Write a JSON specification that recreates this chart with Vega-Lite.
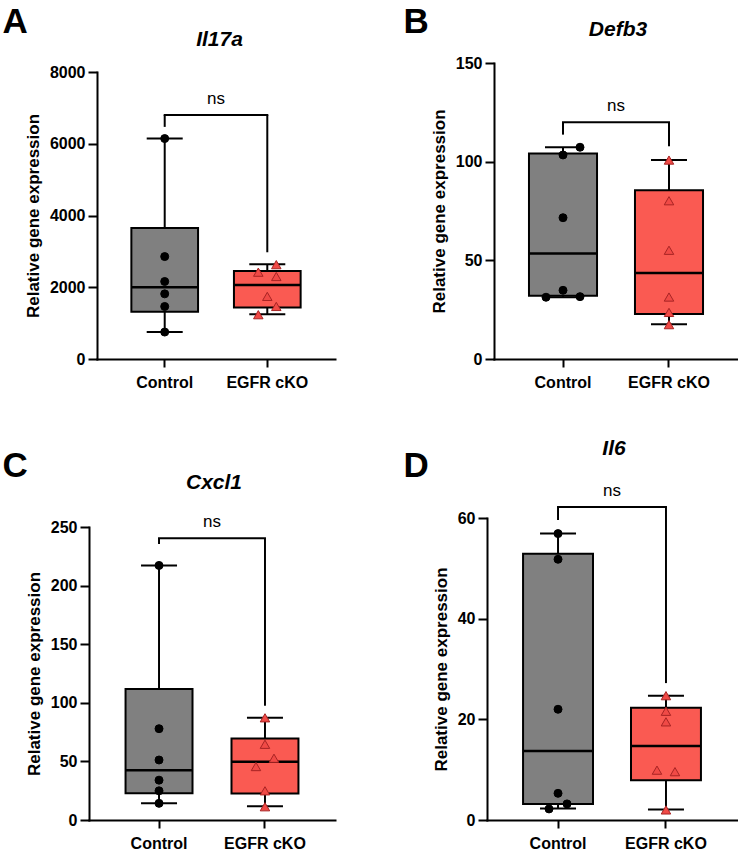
{
  "$schema": "https://vega.github.io/schema/vega-lite/v6.json",
  "padding": {"left": 2, "top": 4, "right": 0, "bottom": 0},
  "background": "white",
  "datasets": {
    "boxes": [
      {"gene": "Il17a", "group": "Control", "min": 751, "q1": 1316, "median": 2002, "q3": 3651, "max": 6145},
      {"gene": "Il17a", "group": "EGFR cKO", "min": 1245, "q1": 1437, "median": 2060, "q3": 2450, "max": 2640},
      {"gene": "Defb3", "group": "Control", "min": 31.3, "q1": 32.0, "median": 53.4, "q3": 104.1, "max": 107.3},
      {"gene": "Defb3", "group": "EGFR cKO", "min": 17.6, "q1": 22.8, "median": 43.6, "q3": 85.5, "max": 100.8},
      {"gene": "Cxcl1", "group": "Control", "min": 14.2, "q1": 22.9, "median": 42.5, "q3": 111.8, "max": 217.2},
      {"gene": "Cxcl1", "group": "EGFR cKO", "min": 11.8, "q1": 22.6, "median": 49.8, "q3": 69.6, "max": 87.2},
      {"gene": "Il6", "group": "Control", "min": 2.3, "q1": 3.2, "median": 13.7, "q3": 52.9, "max": 56.9},
      {"gene": "Il6", "group": "EGFR cKO", "min": 2.1, "q1": 7.9, "median": 14.7, "q3": 22.3, "max": 24.7}
    ],
    "points": [
      {"gene": "Il17a", "group": "Control", "value": 6145, "lane": 0},
      {"gene": "Il17a", "group": "Control", "value": 2855, "lane": 0},
      {"gene": "Il17a", "group": "Control", "value": 2160, "lane": 0},
      {"gene": "Il17a", "group": "Control", "value": 1816, "lane": 0},
      {"gene": "Il17a", "group": "Control", "value": 1464, "lane": 0},
      {"gene": "Il17a", "group": "Control", "value": 751, "lane": 0},
      {"gene": "Il17a", "group": "EGFR cKO", "value": 2630, "lane": 1},
      {"gene": "Il17a", "group": "EGFR cKO", "value": 2420, "lane": -1},
      {"gene": "Il17a", "group": "EGFR cKO", "value": 2300, "lane": 1},
      {"gene": "Il17a", "group": "EGFR cKO", "value": 1745, "lane": 0},
      {"gene": "Il17a", "group": "EGFR cKO", "value": 1465, "lane": 1},
      {"gene": "Il17a", "group": "EGFR cKO", "value": 1235, "lane": -1},
      {"gene": "Defb3", "group": "Control", "value": 107.3, "lane": 1},
      {"gene": "Defb3", "group": "Control", "value": 103.4, "lane": 0},
      {"gene": "Defb3", "group": "Control", "value": 71.6, "lane": 0},
      {"gene": "Defb3", "group": "Control", "value": 34.8, "lane": 0},
      {"gene": "Defb3", "group": "Control", "value": 31.3, "lane": -1},
      {"gene": "Defb3", "group": "Control", "value": 31.6, "lane": 1},
      {"gene": "Defb3", "group": "EGFR cKO", "value": 100.8, "lane": 0},
      {"gene": "Defb3", "group": "EGFR cKO", "value": 80.2, "lane": 0},
      {"gene": "Defb3", "group": "EGFR cKO", "value": 55.1, "lane": 0},
      {"gene": "Defb3", "group": "EGFR cKO", "value": 31.4, "lane": 0},
      {"gene": "Defb3", "group": "EGFR cKO", "value": 23.6, "lane": 0},
      {"gene": "Defb3", "group": "EGFR cKO", "value": 17.4, "lane": 0},
      {"gene": "Cxcl1", "group": "Control", "value": 217.2, "lane": 0},
      {"gene": "Cxcl1", "group": "Control", "value": 77.9, "lane": 0},
      {"gene": "Cxcl1", "group": "Control", "value": 51.2, "lane": 0},
      {"gene": "Cxcl1", "group": "Control", "value": 34.0, "lane": 0},
      {"gene": "Cxcl1", "group": "Control", "value": 24.9, "lane": 0},
      {"gene": "Cxcl1", "group": "Control", "value": 14.2, "lane": 0},
      {"gene": "Cxcl1", "group": "EGFR cKO", "value": 87.2, "lane": 0},
      {"gene": "Cxcl1", "group": "EGFR cKO", "value": 64.6, "lane": 0},
      {"gene": "Cxcl1", "group": "EGFR cKO", "value": 52.7, "lane": 1},
      {"gene": "Cxcl1", "group": "EGFR cKO", "value": 45.6, "lane": -1},
      {"gene": "Cxcl1", "group": "EGFR cKO", "value": 24.9, "lane": 0},
      {"gene": "Cxcl1", "group": "EGFR cKO", "value": 11.3, "lane": 0},
      {"gene": "Il6", "group": "Control", "value": 56.9, "lane": 0},
      {"gene": "Il6", "group": "Control", "value": 51.8, "lane": 0},
      {"gene": "Il6", "group": "Control", "value": 22.0, "lane": 0},
      {"gene": "Il6", "group": "Control", "value": 5.3, "lane": 0},
      {"gene": "Il6", "group": "Control", "value": 3.2, "lane": 1},
      {"gene": "Il6", "group": "Control", "value": 2.2, "lane": -1},
      {"gene": "Il6", "group": "EGFR cKO", "value": 24.7, "lane": 0},
      {"gene": "Il6", "group": "EGFR cKO", "value": 21.6, "lane": 0},
      {"gene": "Il6", "group": "EGFR cKO", "value": 19.5, "lane": 0},
      {"gene": "Il6", "group": "EGFR cKO", "value": 9.9, "lane": -1},
      {"gene": "Il6", "group": "EGFR cKO", "value": 9.6, "lane": 1},
      {"gene": "Il6", "group": "EGFR cKO", "value": 2.0, "lane": 0}
    ],
    "legs": [
      {"gene": "Il17a", "group": "Control", "top": 6800, "bottom": 6470},
      {"gene": "Il17a", "group": "EGFR cKO", "top": 6800, "bottom": 2975},
      {"gene": "Defb3", "group": "Control", "top": 120, "bottom": 113.7},
      {"gene": "Defb3", "group": "EGFR cKO", "top": 120, "bottom": 107.8},
      {"gene": "Cxcl1", "group": "Control", "top": 240.4, "bottom": 235.5},
      {"gene": "Cxcl1", "group": "EGFR cKO", "top": 240.4, "bottom": 97.5},
      {"gene": "Il6", "group": "Control", "top": 62.2, "bottom": 59.6},
      {"gene": "Il6", "group": "EGFR cKO", "top": 62.2, "bottom": 27.2}
    ],
    "bars": [
      {"gene": "Il17a", "left": "Control", "right": "EGFR cKO", "level": 6800, "label": "ns"},
      {"gene": "Defb3", "left": "Control", "right": "EGFR cKO", "level": 120, "label": "ns"},
      {"gene": "Cxcl1", "left": "Control", "right": "EGFR cKO", "level": 240.4, "label": "ns"},
      {"gene": "Il6", "left": "Control", "right": "EGFR cKO", "level": 62.2, "label": "ns"}
    ]
  },
  "spacing": 47,
  "vconcat": [
    {
      "hconcat": [
        {
          "width": 246, "height": 296,
          "layer": [
            {"data": {"name": "boxes"}, "transform": [{"filter": {"field": "gene", "equal": "Il17a"}}],
             "mark": {"type": "rule", "color": "black", "strokeWidth": 2},
             "encoding": {
               "x": {"field": "group", "type": "nominal", "scale": {"type": "band", "domain": ["Control", "EGFR cKO"], "range": [8, 246], "paddingInner": 0.35, "paddingOuter": 0.335}, "axis": {"title": null}},
               "y": {"field": "min", "type": "quantitative", "scale": {"domain": [0, 8000], "range": [296, 9], "nice": false}, "axis": {"values": [0, 2000, 4000, 6000, 8000], "format": "d", "title": "Relative gene expression", "offset": -8}},
               "y2": {"field": "max"}}},
            {"data": {"name": "boxes"}, "transform": [{"filter": {"field": "gene", "equal": "Il17a"}}],
             "mark": {"type": "bar", "stroke": "black", "strokeWidth": 2, "opacity": 1},
             "encoding": {
               "x": {"field": "group", "type": "nominal", "axis": null},
               "y": {"field": "q1", "type": "quantitative", "axis": null},
               "y2": {"field": "q3"},
               "color": {"field": "group", "type": "nominal", "scale": {"domain": ["Control", "EGFR cKO"], "range": ["#808080", "#FA5A52"]}, "legend": null}}},
            {"data": {"name": "boxes"}, "transform": [{"filter": {"field": "gene", "equal": "Il17a"}}],
             "mark": {"type": "tick", "color": "black", "size": 66.7, "thickness": 2.5, "opacity": 1},
             "encoding": {
               "x": {"field": "group", "type": "nominal", "axis": {"orient": "top", "title": "Il17a", "labels": false, "ticks": false, "domain": false, "titleX": 130, "titleY": -18, "titleFontSize": 21, "titleFontStyle": "italic", "titleAlign": "center", "titleBaseline": "alphabetic"}},
               "y": {"field": "median", "type": "quantitative", "axis": null}}},
            {"data": {"name": "boxes"}, "transform": [{"filter": {"field": "gene", "equal": "Il17a"}}],
             "mark": {"type": "tick", "color": "black", "size": 36, "thickness": 2, "opacity": 1},
             "encoding": {
               "x": {"field": "group", "type": "nominal", "axis": null},
               "y": {"field": "min", "type": "quantitative", "axis": null}}},
            {"data": {"name": "boxes"}, "transform": [{"filter": {"field": "gene", "equal": "Il17a"}}],
             "mark": {"type": "tick", "color": "black", "size": 36, "thickness": 2, "opacity": 1},
             "encoding": {
               "x": {"field": "group", "type": "nominal", "axis": null},
               "y": {"field": "max", "type": "quantitative", "axis": {"orient": "right", "title": "A", "labels": false, "ticks": false, "domain": false, "titleAngle": 0, "titleX": -333, "titleY": -31, "titleAlign": "left", "titleBaseline": "alphabetic", "titleFontSize": 35}}}},
            {"data": {"name": "legs"}, "transform": [{"filter": {"field": "gene", "equal": "Il17a"}}],
             "mark": {"type": "rule", "color": "black", "strokeWidth": 2},
             "encoding": {
               "x": {"field": "group", "type": "nominal", "axis": null},
               "y": {"field": "top", "type": "quantitative", "axis": null},
               "y2": {"field": "bottom"}}},
            {"data": {"name": "bars"}, "transform": [{"filter": {"field": "gene", "equal": "Il17a"}}],
             "mark": {"type": "rule", "color": "black", "strokeWidth": 2, "strokeCap": "square"},
             "encoding": {
               "x": {"field": "left", "type": "nominal", "axis": null},
               "x2": {"field": "right"},
               "y": {"field": "level", "type": "quantitative", "axis": null}}},
            {"data": {"name": "bars"}, "transform": [{"filter": {"field": "gene", "equal": "Il17a"}}],
             "mark": {"type": "text", "dx": 51.3, "dy": -11, "fontSize": 17, "align": "center", "baseline": "alphabetic", "color": "black", "font": "Liberation Sans"},
             "encoding": {
               "x": {"field": "left", "type": "nominal", "axis": null},
               "y": {"field": "level", "type": "quantitative", "axis": null},
               "text": {"field": "label"}}},
            {"data": {"name": "points"}, "transform": [{"filter": {"field": "gene", "equal": "Il17a"}}, {"filter": {"field": "lane", "equal": 0}}],
             "mark": {"type": "point", "filled": true, "strokeWidth": 1, "opacity": 1},
             "encoding": {
               "x": {"field": "group", "type": "nominal", "axis": null},
               "y": {"field": "value", "type": "quantitative", "axis": null},
               "shape": {"field": "group", "type": "nominal", "scale": {"domain": ["Control", "EGFR cKO"], "range": ["circle", "triangle-up"]}, "legend": null},
               "fill": {"field": "group", "type": "nominal", "scale": {"domain": ["Control", "EGFR cKO"], "range": ["#000000", "#F04A46"]}, "legend": null},
               "stroke": {"field": "group", "type": "nominal", "scale": {"domain": ["Control", "EGFR cKO"], "range": ["#000000", "#A82424"]}, "legend": null},
               "size": {"field": "group", "type": "ordinal", "scale": {"domain": ["Control", "EGFR cKO"], "range": [64, 90]}, "legend": null}}},
            {"data": {"name": "points"}, "transform": [{"filter": {"field": "gene", "equal": "Il17a"}}, {"filter": {"field": "lane", "equal": -1}}],
             "mark": {"type": "point", "filled": true, "strokeWidth": 1, "opacity": 1, "xOffset": -9},
             "encoding": {
               "x": {"field": "group", "type": "nominal", "axis": null},
               "y": {"field": "value", "type": "quantitative", "axis": null},
               "shape": {"field": "group", "type": "nominal", "legend": null},
               "fill": {"field": "group", "type": "nominal", "legend": null},
               "stroke": {"field": "group", "type": "nominal", "legend": null},
               "size": {"field": "group", "type": "ordinal", "legend": null}}},
            {"data": {"name": "points"}, "transform": [{"filter": {"field": "gene", "equal": "Il17a"}}, {"filter": {"field": "lane", "equal": 1}}],
             "mark": {"type": "point", "filled": true, "strokeWidth": 1, "opacity": 1, "xOffset": 9},
             "encoding": {
               "x": {"field": "group", "type": "nominal", "axis": null},
               "y": {"field": "value", "type": "quantitative", "axis": null},
               "shape": {"field": "group", "type": "nominal", "legend": null},
               "fill": {"field": "group", "type": "nominal", "legend": null},
               "stroke": {"field": "group", "type": "nominal", "legend": null},
               "size": {"field": "group", "type": "ordinal", "legend": null}}}
          ],
          "resolve": {"axis": {"x": "independent", "y": "independent"}}
        },
        {
          "width": 244, "height": 296,
          "layer": [
            {"data": {"name": "boxes"}, "transform": [{"filter": {"field": "gene", "equal": "Defb3"}}],
             "mark": {"type": "rule", "color": "black", "strokeWidth": 2},
             "encoding": {
               "x": {"field": "group", "type": "nominal", "scale": {"type": "band", "domain": ["Control", "EGFR cKO"], "paddingInner": 0.358, "paddingOuter": 0.33}, "axis": {"title": null}},
               "y": {"field": "min", "type": "quantitative", "scale": {"domain": [0, 150], "nice": false}, "axis": {"values": [0, 50, 100, 150], "title": "Relative gene expression"}},
               "y2": {"field": "max"}}},
            {"data": {"name": "boxes"}, "transform": [{"filter": {"field": "gene", "equal": "Defb3"}}],
             "mark": {"type": "bar", "stroke": "black", "strokeWidth": 2, "opacity": 1},
             "encoding": {
               "x": {"field": "group", "type": "nominal", "axis": null},
               "y": {"field": "q1", "type": "quantitative", "axis": null},
               "y2": {"field": "q3"},
               "color": {"field": "group", "type": "nominal", "scale": {"domain": ["Control", "EGFR cKO"], "range": ["#808080", "#FA5A52"]}, "legend": null}}},
            {"data": {"name": "boxes"}, "transform": [{"filter": {"field": "gene", "equal": "Defb3"}}],
             "mark": {"type": "tick", "color": "black", "size": 68, "thickness": 2.5, "opacity": 1},
             "encoding": {
               "x": {"field": "group", "type": "nominal", "axis": {"orient": "top", "title": "Defb3", "labels": false, "ticks": false, "domain": false, "titleX": 123.5, "titleY": -28, "titleFontSize": 21, "titleFontStyle": "italic", "titleAlign": "center", "titleBaseline": "alphabetic"}},
               "y": {"field": "median", "type": "quantitative", "axis": null}}},
            {"data": {"name": "boxes"}, "transform": [{"filter": {"field": "gene", "equal": "Defb3"}}],
             "mark": {"type": "tick", "color": "black", "size": 36, "thickness": 2, "opacity": 1},
             "encoding": {
               "x": {"field": "group", "type": "nominal", "axis": null},
               "y": {"field": "min", "type": "quantitative", "axis": null}}},
            {"data": {"name": "boxes"}, "transform": [{"filter": {"field": "gene", "equal": "Defb3"}}],
             "mark": {"type": "tick", "color": "black", "size": 36, "thickness": 2, "opacity": 1},
             "encoding": {
               "x": {"field": "group", "type": "nominal", "axis": null},
               "y": {"field": "max", "type": "quantitative", "axis": {"orient": "right", "title": "B", "labels": false, "ticks": false, "domain": false, "titleAngle": 0, "titleX": -335, "titleY": -31, "titleAlign": "left", "titleBaseline": "alphabetic", "titleFontSize": 35}}}},
            {"data": {"name": "legs"}, "transform": [{"filter": {"field": "gene", "equal": "Defb3"}}],
             "mark": {"type": "rule", "color": "black", "strokeWidth": 2},
             "encoding": {
               "x": {"field": "group", "type": "nominal", "axis": null},
               "y": {"field": "top", "type": "quantitative", "axis": null},
               "y2": {"field": "bottom"}}},
            {"data": {"name": "bars"}, "transform": [{"filter": {"field": "gene", "equal": "Defb3"}}],
             "mark": {"type": "rule", "color": "black", "strokeWidth": 2, "strokeCap": "square"},
             "encoding": {
               "x": {"field": "left", "type": "nominal", "axis": null},
               "x2": {"field": "right"},
               "y": {"field": "level", "type": "quantitative", "axis": null}}},
            {"data": {"name": "bars"}, "transform": [{"filter": {"field": "gene", "equal": "Defb3"}}],
             "mark": {"type": "text", "dx": 53, "dy": -11, "fontSize": 17, "align": "center", "baseline": "alphabetic", "color": "black", "font": "Liberation Sans"},
             "encoding": {
               "x": {"field": "left", "type": "nominal", "axis": null},
               "y": {"field": "level", "type": "quantitative", "axis": null},
               "text": {"field": "label"}}},
            {"data": {"name": "points"}, "transform": [{"filter": {"field": "gene", "equal": "Defb3"}}, {"filter": {"field": "lane", "equal": 0}}],
             "mark": {"type": "point", "filled": true, "strokeWidth": 1, "opacity": 1},
             "encoding": {
               "x": {"field": "group", "type": "nominal", "axis": null},
               "y": {"field": "value", "type": "quantitative", "axis": null},
               "shape": {"field": "group", "type": "nominal", "scale": {"domain": ["Control", "EGFR cKO"], "range": ["circle", "triangle-up"]}, "legend": null},
               "fill": {"field": "group", "type": "nominal", "scale": {"domain": ["Control", "EGFR cKO"], "range": ["#000000", "#F04A46"]}, "legend": null},
               "stroke": {"field": "group", "type": "nominal", "scale": {"domain": ["Control", "EGFR cKO"], "range": ["#000000", "#A82424"]}, "legend": null},
               "size": {"field": "group", "type": "ordinal", "scale": {"domain": ["Control", "EGFR cKO"], "range": [64, 90]}, "legend": null}}},
            {"data": {"name": "points"}, "transform": [{"filter": {"field": "gene", "equal": "Defb3"}}, {"filter": {"field": "lane", "equal": -1}}],
             "mark": {"type": "point", "filled": true, "strokeWidth": 1, "opacity": 1, "xOffset": -17},
             "encoding": {
               "x": {"field": "group", "type": "nominal", "axis": null},
               "y": {"field": "value", "type": "quantitative", "axis": null},
               "shape": {"field": "group", "type": "nominal", "legend": null},
               "fill": {"field": "group", "type": "nominal", "legend": null},
               "stroke": {"field": "group", "type": "nominal", "legend": null},
               "size": {"field": "group", "type": "ordinal", "legend": null}}},
            {"data": {"name": "points"}, "transform": [{"filter": {"field": "gene", "equal": "Defb3"}}, {"filter": {"field": "lane", "equal": 1}}],
             "mark": {"type": "point", "filled": true, "strokeWidth": 1, "opacity": 1, "xOffset": 17},
             "encoding": {
               "x": {"field": "group", "type": "nominal", "axis": null},
               "y": {"field": "value", "type": "quantitative", "axis": null},
               "shape": {"field": "group", "type": "nominal", "legend": null},
               "fill": {"field": "group", "type": "nominal", "legend": null},
               "stroke": {"field": "group", "type": "nominal", "legend": null},
               "size": {"field": "group", "type": "ordinal", "legend": null}}}
          ],
          "resolve": {"axis": {"x": "independent", "y": "independent"}}
        }
      ],
      "spacing": 159,
      "bounds": "flush"
    },
    {
      "hconcat": [
        {
          "width": 246, "height": 302,
          "layer": [
            {"data": {"name": "boxes"}, "transform": [{"filter": {"field": "gene", "equal": "Cxcl1"}}],
             "mark": {"type": "rule", "color": "black", "strokeWidth": 2},
             "encoding": {
               "x": {"field": "group", "type": "nominal", "scale": {"type": "band", "domain": ["Control", "EGFR cKO"], "paddingInner": 0.368, "paddingOuter": 0.345}, "axis": {"title": null}},
               "y": {"field": "min", "type": "quantitative", "scale": {"domain": [0, 250], "range": [302, 9], "nice": false}, "axis": {"values": [0, 50, 100, 150, 200, 250], "title": "Relative gene expression"}},
               "y2": {"field": "max"}}},
            {"data": {"name": "boxes"}, "transform": [{"filter": {"field": "gene", "equal": "Cxcl1"}}],
             "mark": {"type": "bar", "stroke": "black", "strokeWidth": 2, "opacity": 1},
             "encoding": {
               "x": {"field": "group", "type": "nominal", "axis": null},
               "y": {"field": "q1", "type": "quantitative", "axis": null},
               "y2": {"field": "q3"},
               "color": {"field": "group", "type": "nominal", "scale": {"domain": ["Control", "EGFR cKO"], "range": ["#808080", "#FA5A52"]}, "legend": null}}},
            {"data": {"name": "boxes"}, "transform": [{"filter": {"field": "gene", "equal": "Cxcl1"}}],
             "mark": {"type": "tick", "color": "black", "size": 67, "thickness": 2.5, "opacity": 1},
             "encoding": {
               "x": {"field": "group", "type": "nominal", "axis": {"orient": "top", "title": "Cxcl1", "labels": false, "ticks": false, "domain": false, "titleX": 124.5, "titleY": -30, "titleFontSize": 21, "titleFontStyle": "italic", "titleAlign": "center", "titleBaseline": "alphabetic"}},
               "y": {"field": "median", "type": "quantitative", "axis": null}}},
            {"data": {"name": "boxes"}, "transform": [{"filter": {"field": "gene", "equal": "Cxcl1"}}],
             "mark": {"type": "tick", "color": "black", "size": 36, "thickness": 2, "opacity": 1},
             "encoding": {
               "x": {"field": "group", "type": "nominal", "axis": null},
               "y": {"field": "min", "type": "quantitative", "axis": null}}},
            {"data": {"name": "boxes"}, "transform": [{"filter": {"field": "gene", "equal": "Cxcl1"}}],
             "mark": {"type": "tick", "color": "black", "size": 36, "thickness": 2, "opacity": 1},
             "encoding": {
               "x": {"field": "group", "type": "nominal", "axis": null},
               "y": {"field": "max", "type": "quantitative", "axis": {"orient": "right", "title": "C", "labels": false, "ticks": false, "domain": false, "titleAngle": 0, "titleX": -333, "titleY": -42, "titleAlign": "left", "titleBaseline": "alphabetic", "titleFontSize": 35}}}},
            {"data": {"name": "legs"}, "transform": [{"filter": {"field": "gene", "equal": "Cxcl1"}}],
             "mark": {"type": "rule", "color": "black", "strokeWidth": 2},
             "encoding": {
               "x": {"field": "group", "type": "nominal", "axis": null},
               "y": {"field": "top", "type": "quantitative", "axis": null},
               "y2": {"field": "bottom"}}},
            {"data": {"name": "bars"}, "transform": [{"filter": {"field": "gene", "equal": "Cxcl1"}}],
             "mark": {"type": "rule", "color": "black", "strokeWidth": 2, "strokeCap": "square"},
             "encoding": {
               "x": {"field": "left", "type": "nominal", "axis": null},
               "x2": {"field": "right"},
               "y": {"field": "level", "type": "quantitative", "axis": null}}},
            {"data": {"name": "bars"}, "transform": [{"filter": {"field": "gene", "equal": "Cxcl1"}}],
             "mark": {"type": "text", "dx": 53, "dy": -11, "fontSize": 17, "align": "center", "baseline": "alphabetic", "color": "black", "font": "Liberation Sans"},
             "encoding": {
               "x": {"field": "left", "type": "nominal", "axis": null},
               "y": {"field": "level", "type": "quantitative", "axis": null},
               "text": {"field": "label"}}},
            {"data": {"name": "points"}, "transform": [{"filter": {"field": "gene", "equal": "Cxcl1"}}, {"filter": {"field": "lane", "equal": 0}}],
             "mark": {"type": "point", "filled": true, "strokeWidth": 1, "opacity": 1},
             "encoding": {
               "x": {"field": "group", "type": "nominal", "axis": null},
               "y": {"field": "value", "type": "quantitative", "axis": null},
               "shape": {"field": "group", "type": "nominal", "scale": {"domain": ["Control", "EGFR cKO"], "range": ["circle", "triangle-up"]}, "legend": null},
               "fill": {"field": "group", "type": "nominal", "scale": {"domain": ["Control", "EGFR cKO"], "range": ["#000000", "#F04A46"]}, "legend": null},
               "stroke": {"field": "group", "type": "nominal", "scale": {"domain": ["Control", "EGFR cKO"], "range": ["#000000", "#A82424"]}, "legend": null},
               "size": {"field": "group", "type": "ordinal", "scale": {"domain": ["Control", "EGFR cKO"], "range": [64, 90]}, "legend": null}}},
            {"data": {"name": "points"}, "transform": [{"filter": {"field": "gene", "equal": "Cxcl1"}}, {"filter": {"field": "lane", "equal": -1}}],
             "mark": {"type": "point", "filled": true, "strokeWidth": 1, "opacity": 1, "xOffset": -9},
             "encoding": {
               "x": {"field": "group", "type": "nominal", "axis": null},
               "y": {"field": "value", "type": "quantitative", "axis": null},
               "shape": {"field": "group", "type": "nominal", "legend": null},
               "fill": {"field": "group", "type": "nominal", "legend": null},
               "stroke": {"field": "group", "type": "nominal", "legend": null},
               "size": {"field": "group", "type": "ordinal", "legend": null}}},
            {"data": {"name": "points"}, "transform": [{"filter": {"field": "gene", "equal": "Cxcl1"}}, {"filter": {"field": "lane", "equal": 1}}],
             "mark": {"type": "point", "filled": true, "strokeWidth": 1, "opacity": 1, "xOffset": 9},
             "encoding": {
               "x": {"field": "group", "type": "nominal", "axis": null},
               "y": {"field": "value", "type": "quantitative", "axis": null},
               "shape": {"field": "group", "type": "nominal", "legend": null},
               "fill": {"field": "group", "type": "nominal", "legend": null},
               "stroke": {"field": "group", "type": "nominal", "legend": null},
               "size": {"field": "group", "type": "ordinal", "legend": null}}}
          ],
          "resolve": {"axis": {"x": "independent", "y": "independent"}}
        },
        {
          "width": 250, "height": 302,
          "layer": [
            {"data": {"name": "boxes"}, "transform": [{"filter": {"field": "gene", "equal": "Il6"}}],
             "mark": {"type": "rule", "color": "black", "strokeWidth": 2},
             "encoding": {
               "x": {"field": "group", "type": "nominal", "scale": {"type": "band", "domain": ["Control", "EGFR cKO"], "paddingInner": 0.352, "paddingOuter": 0.334}, "axis": {"title": null}},
               "y": {"field": "min", "type": "quantitative", "scale": {"domain": [0, 60], "nice": false}, "axis": {"values": [0, 20, 40, 60], "title": "Relative gene expression"}},
               "y2": {"field": "max"}}},
            {"data": {"name": "boxes"}, "transform": [{"filter": {"field": "gene", "equal": "Il6"}}],
             "mark": {"type": "bar", "stroke": "black", "strokeWidth": 2, "opacity": 1},
             "encoding": {
               "x": {"field": "group", "type": "nominal", "axis": null},
               "y": {"field": "q1", "type": "quantitative", "axis": null},
               "y2": {"field": "q3"},
               "color": {"field": "group", "type": "nominal", "scale": {"domain": ["Control", "EGFR cKO"], "range": ["#808080", "#FA5A52"]}, "legend": null}}},
            {"data": {"name": "boxes"}, "transform": [{"filter": {"field": "gene", "equal": "Il6"}}],
             "mark": {"type": "tick", "color": "black", "size": 70, "thickness": 2.5, "opacity": 1},
             "encoding": {
               "x": {"field": "group", "type": "nominal", "axis": {"orient": "top", "title": "Il6", "labels": false, "ticks": false, "domain": false, "titleX": 126.5, "titleY": -64, "titleFontSize": 21, "titleFontStyle": "italic", "titleAlign": "center", "titleBaseline": "alphabetic"}},
               "y": {"field": "median", "type": "quantitative", "axis": null}}},
            {"data": {"name": "boxes"}, "transform": [{"filter": {"field": "gene", "equal": "Il6"}}],
             "mark": {"type": "tick", "color": "black", "size": 36, "thickness": 2, "opacity": 1},
             "encoding": {
               "x": {"field": "group", "type": "nominal", "axis": null},
               "y": {"field": "min", "type": "quantitative", "axis": null}}},
            {"data": {"name": "boxes"}, "transform": [{"filter": {"field": "gene", "equal": "Il6"}}],
             "mark": {"type": "tick", "color": "black", "size": 36, "thickness": 2, "opacity": 1},
             "encoding": {
               "x": {"field": "group", "type": "nominal", "axis": null},
               "y": {"field": "max", "type": "quantitative", "axis": {"orient": "right", "title": "D", "labels": false, "ticks": false, "domain": false, "titleAngle": 0, "titleX": -334, "titleY": -42, "titleAlign": "left", "titleBaseline": "alphabetic", "titleFontSize": 35}}}},
            {"data": {"name": "legs"}, "transform": [{"filter": {"field": "gene", "equal": "Il6"}}],
             "mark": {"type": "rule", "color": "black", "strokeWidth": 2},
             "encoding": {
               "x": {"field": "group", "type": "nominal", "axis": null},
               "y": {"field": "top", "type": "quantitative", "axis": null},
               "y2": {"field": "bottom"}}},
            {"data": {"name": "bars"}, "transform": [{"filter": {"field": "gene", "equal": "Il6"}}],
             "mark": {"type": "rule", "color": "black", "strokeWidth": 2, "strokeCap": "square"},
             "encoding": {
               "x": {"field": "left", "type": "nominal", "axis": null},
               "x2": {"field": "right"},
               "y": {"field": "level", "type": "quantitative", "axis": null}}},
            {"data": {"name": "bars"}, "transform": [{"filter": {"field": "gene", "equal": "Il6"}}],
             "mark": {"type": "text", "dx": 54, "dy": -11, "fontSize": 17, "align": "center", "baseline": "alphabetic", "color": "black", "font": "Liberation Sans"},
             "encoding": {
               "x": {"field": "left", "type": "nominal", "axis": null},
               "y": {"field": "level", "type": "quantitative", "axis": null},
               "text": {"field": "label"}}},
            {"data": {"name": "points"}, "transform": [{"filter": {"field": "gene", "equal": "Il6"}}, {"filter": {"field": "lane", "equal": 0}}],
             "mark": {"type": "point", "filled": true, "strokeWidth": 1, "opacity": 1},
             "encoding": {
               "x": {"field": "group", "type": "nominal", "axis": null},
               "y": {"field": "value", "type": "quantitative", "axis": null},
               "shape": {"field": "group", "type": "nominal", "scale": {"domain": ["Control", "EGFR cKO"], "range": ["circle", "triangle-up"]}, "legend": null},
               "fill": {"field": "group", "type": "nominal", "scale": {"domain": ["Control", "EGFR cKO"], "range": ["#000000", "#F04A46"]}, "legend": null},
               "stroke": {"field": "group", "type": "nominal", "scale": {"domain": ["Control", "EGFR cKO"], "range": ["#000000", "#A82424"]}, "legend": null},
               "size": {"field": "group", "type": "ordinal", "scale": {"domain": ["Control", "EGFR cKO"], "range": [64, 90]}, "legend": null}}},
            {"data": {"name": "points"}, "transform": [{"filter": {"field": "gene", "equal": "Il6"}}, {"filter": {"field": "lane", "equal": -1}}],
             "mark": {"type": "point", "filled": true, "strokeWidth": 1, "opacity": 1, "xOffset": -9},
             "encoding": {
               "x": {"field": "group", "type": "nominal", "axis": null},
               "y": {"field": "value", "type": "quantitative", "axis": null},
               "shape": {"field": "group", "type": "nominal", "legend": null},
               "fill": {"field": "group", "type": "nominal", "legend": null},
               "stroke": {"field": "group", "type": "nominal", "legend": null},
               "size": {"field": "group", "type": "ordinal", "legend": null}}},
            {"data": {"name": "points"}, "transform": [{"filter": {"field": "gene", "equal": "Il6"}}, {"filter": {"field": "lane", "equal": 1}}],
             "mark": {"type": "point", "filled": true, "strokeWidth": 1, "opacity": 1, "xOffset": 9},
             "encoding": {
               "x": {"field": "group", "type": "nominal", "axis": null},
               "y": {"field": "value", "type": "quantitative", "axis": null},
               "shape": {"field": "group", "type": "nominal", "legend": null},
               "fill": {"field": "group", "type": "nominal", "legend": null},
               "stroke": {"field": "group", "type": "nominal", "legend": null},
               "size": {"field": "group", "type": "ordinal", "legend": null}}}
          ],
          "resolve": {"axis": {"x": "independent", "y": "independent"}}
        }
      ],
      "spacing": 152,
      "bounds": "flush"
    }
  ],
  "config": {
    "view": {"stroke": null},
    "font": "Liberation Sans",
    "axis": {
      "grid": false,
      "domainColor": "#000000", "domainWidth": 2, "domainCap": "square",
      "tickColor": "#000000", "tickWidth": 2, "tickSize": 9,
      "labelPadding": 3, "labelFont": "Liberation Sans", "labelFontSize": 16, "labelFontWeight": "bold", "labelColor": "#000000",
      "titleFont": "Liberation Sans", "titleFontSize": 17, "titleFontWeight": "bold", "titleColor": "#000000", "titlePadding": 7
    },
    "axisX": {"labelAngle": 0, "tickSize": 8, "labelPadding": 7}
  }
}
